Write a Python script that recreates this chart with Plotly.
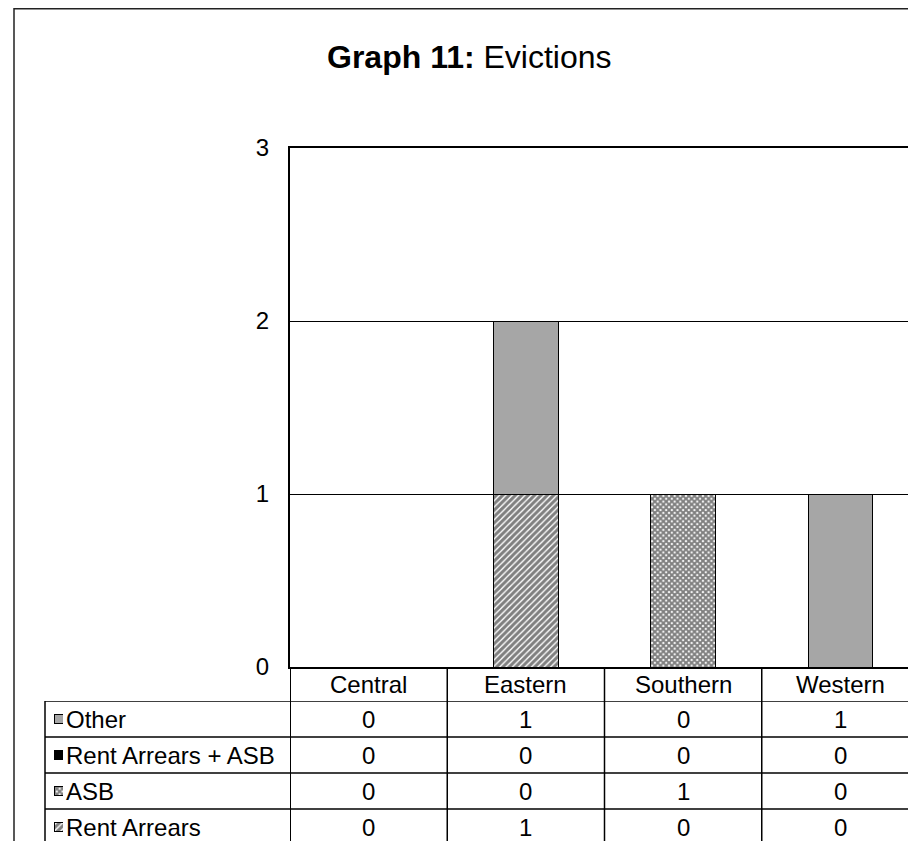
import plotly.graph_objects as go

# ---- data ----
categories = ["Central", "Eastern", "Southern", "Western"]
rent_arrears = [0, 1, 0, 0]
asb = [0, 0, 1, 0]
rent_arrears_asb = [0, 0, 0, 0]
other = [0, 1, 0, 1]
y_ticks = [0, 1, 2, 3]
title_bold = "Graph 11:"
title_rest = "Evictions"

# stacking order bottom -> top (table rows are shown top -> bottom in reverse)
series = [
    ("Rent Arrears", rent_arrears),
    ("ASB", asb),
    ("Rent Arrears + ASB", rent_arrears_asb),
    ("Other", other),
]
series_names = [s[0] for s in series]

# page has an 8px body margin; the figure fills the rest of the window
OFF = 8
W, H = 916 - OFF, 841 - OFF
FONT = "Liberation Sans, Arial, sans-serif"
FS = 24


def px(x):
    return (x - OFF) / W


def py(y):
    return 1 - (y - OFF) / H


styles = {
    "Rent Arrears": dict(color="white", line=dict(color="black", width=1),
                         pattern=dict(shape="/", fgcolor="black", bgcolor="white",
                                      size=4.5, solidity=0.68)),
    "ASB": dict(color="white", line=dict(color="black", width=1),
                pattern=dict(shape="x", fgcolor="black", bgcolor="white",
                             size=4, solidity=0.75)),
    "Rent Arrears + ASB": dict(color="black", line=dict(color="black", width=1)),
    "Other": dict(color="#a6a6a6", line=dict(color="black", width=1)),
}

fig = go.Figure()

for name, vals in series:
    fig.add_trace(go.Bar(x=categories, y=vals, name=name, marker=styles[name],
                         width=0.41, xaxis="x", yaxis="y", showlegend=False))

# legend keys in the data table
for name, vals in series:
    fig.add_trace(go.Bar(x=[1], y=[name], orientation="h", marker=styles[name],
                         width=0.26, xaxis="x2", yaxis="y2", showlegend=False,
                         hoverinfo="skip"))

annotations = []
annotations.append(dict(text=f"<b>{title_bold}</b> {title_rest}", xref="paper", yref="paper",
                        x=px(470), y=py(57), xanchor="center", yanchor="middle",
                        showarrow=False, font=dict(size=32, color="black", family=FONT)))

# category header row
for c in categories:
    annotations.append(dict(text=c, xref="x", yref="paper", x=c, y=py(684),
                            xanchor="center", yanchor="middle", showarrow=False,
                            font=dict(size=FS, color="black", family=FONT)))

for name, vals in series:
    annotations.append(dict(text=name, xref="paper", yref="y2", x=px(64), y=name,
                            xanchor="left", yanchor="middle", showarrow=False,
                            font=dict(size=FS, color="black", family=FONT)))
    for c, v in zip(categories, vals):
        annotations.append(dict(text=str(v), xref="x", yref="y2", x=c, y=name,
                                xanchor="center", yanchor="middle", showarrow=False,
                                font=dict(size=FS, color="black", family=FONT)))

shapes = []
LW = 1.5
# outer chart border
shapes.append(dict(type="rect", xref="paper", yref="paper", x0=px(14), x1=1.05,
                   y0=-0.05, y1=1 - 0.75 / H, line=dict(color="#222", width=1.5)))
# table horizontal lines
for k in [3.5, 2.5, 1.5, 0.5]:
    shapes.append(dict(type="line", xref="paper", yref="y2", x0=px(45), x1=1,
                       y0=k, y1=k, line=dict(color="black", width=LW)))
# table left border
shapes.append(dict(type="line", xref="paper", yref="y2", x0=px(45), x1=px(45),
                   y0=3.5, y1=-0.6, line=dict(color="black", width=LW)))
# table vertical lines (column boundaries)
for xb in [-0.5, 0.5, 1.5, 2.5]:
    shapes.append(dict(type="line", xref="x", yref="paper", x0=xb, x1=xb,
                       y0=py(667), y1=-0.05,
                       line=dict(color="black", width=2 if xb == -0.5 else LW)))

fig.update_layout(
    width=W, height=H,
    margin=dict(l=0, r=0, t=0, b=0, pad=0, autoexpand=False),
    paper_bgcolor="white", plot_bgcolor="white",
    barmode="stack",
    font=dict(family=FONT, size=FS, color="black"),
    annotations=annotations,
    shapes=shapes,
    xaxis=dict(domain=[px(290), 1], range=[-0.5, 3.5 - 3 / 157.3],
               showline=True, mirror=True, linecolor="black", linewidth=2,
               showgrid=False, zeroline=False, ticks="", showticklabels=False,
               automargin=False, anchor="y"),
    yaxis=dict(domain=[py(667), py(148)], range=[0, 3], tickvals=y_ticks,
               showline=True, linecolor="black", linewidth=2,
               showgrid=True, gridcolor="black", gridwidth=1, zeroline=False,
               ticks="", ticklabelstandoff=14, automargin=False,
               tickfont=dict(size=FS, family=FONT, color="black"), anchor="x"),
    xaxis2=dict(domain=[px(54), px(63)], range=[0, 1], visible=False,
                automargin=False, anchor="y2"),
    yaxis2=dict(domain=[0, py(701)], range=[3.5 - (841 - 701) / 36, 3.5], type="category",
                categoryorder="array", categoryarray=series_names,
                visible=False, automargin=False, anchor="x2"),
)

fig.write_html("out.html")
